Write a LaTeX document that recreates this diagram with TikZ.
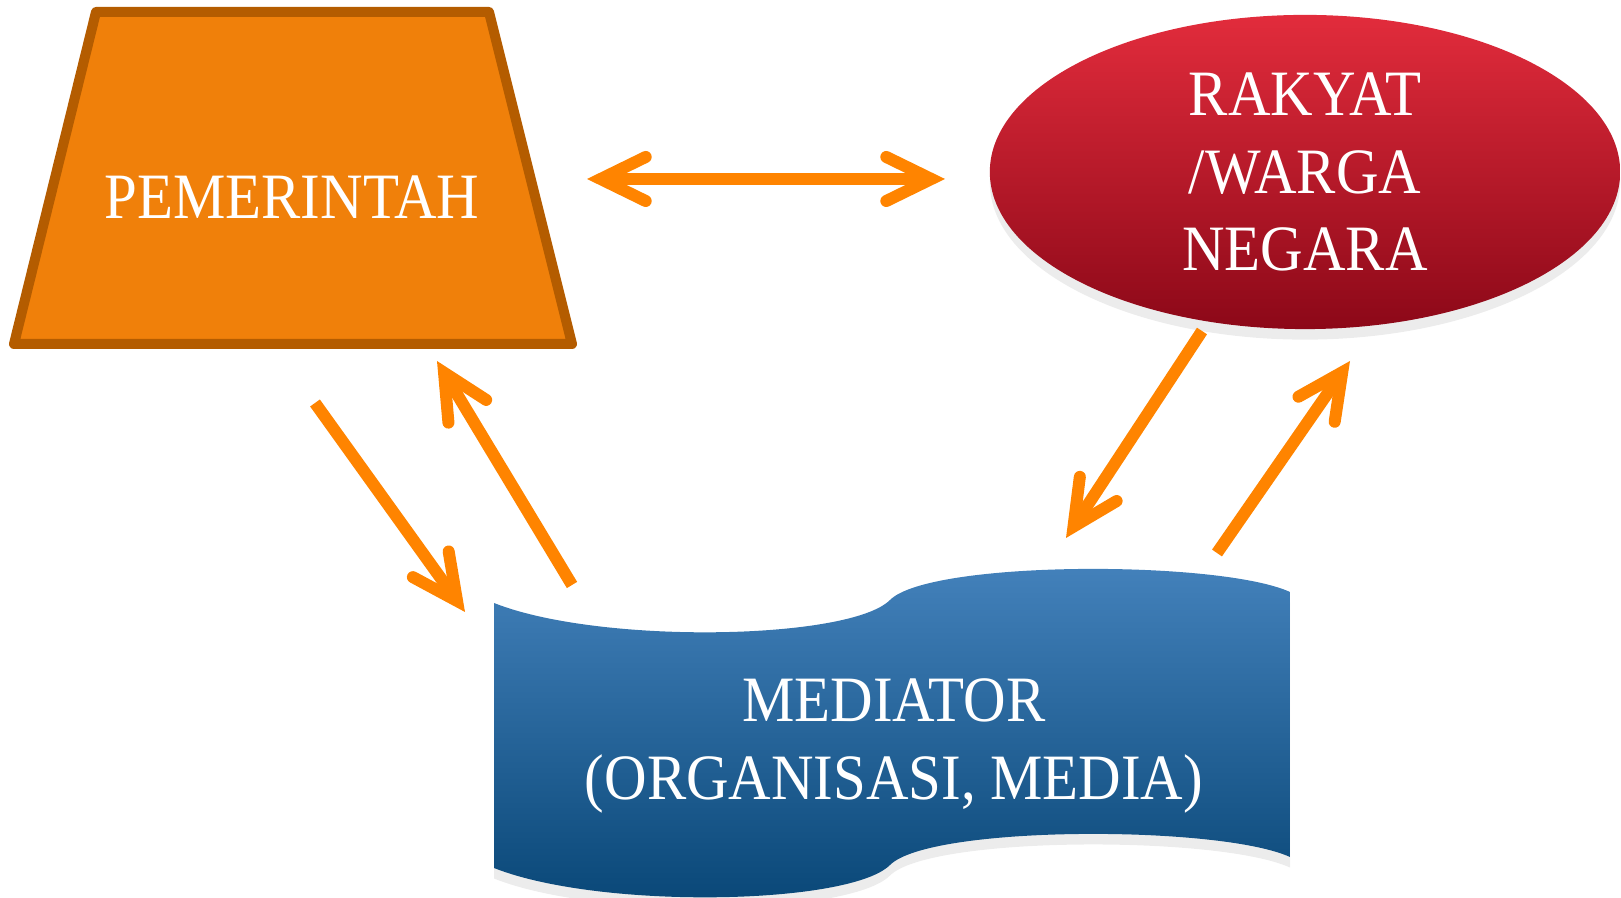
\documentclass[tikz,border=0pt]{standalone}
\usepackage{fontspec}
\setmainfont{Liberation Serif}[FakeStretch=0.91]
\usetikzlibrary{arrows.meta,shapes.geometric,shadows}
\definecolor{govfill}{RGB}{240,128,10}
\definecolor{govline}{RGB}{180,92,0}
\definecolor{linkorange}{RGB}{255,132,0}
\definecolor{redtop}{RGB}{226,44,60}
\definecolor{redbot}{RGB}{140,8,24}
\definecolor{bluetop}{RGB}{68,130,188}
\definecolor{bluebot}{RGB}{8,70,118}

\begin{document}
\begin{tikzpicture}[x=0.01cm,y=-0.01cm,
  >={Straight Barb[length=0.45cm,width=0.44cm,line cap=round,line join=miter]},
  link/.style={->,draw=linkorange,line width=0.12cm},
  soft shadow/.style={drop shadow={opacity=0.15,shadow xshift=0pt,shadow yshift=-3pt}},
  label text/.style={text=white,font=\fontsize{18.4}{22}\selectfont,align=center}]

  \useasboundingbox (0,0) rectangle (1621,898);

  % pemerintah
  \draw[govline,fill=govfill,line width=0.1cm,line join=round]
    (96,12) -- (489,12) -- (572,344) -- (14,344) -- cycle;
  \node[label text] (gov) at (292,197) {PEMERINTAH};

  % rakyat
  \node[ellipse,minimum width=6.3cm,minimum height=3.14cm,soft shadow,
    top color=redtop,bottom color=redbot,label text] (rak) at (1305,172)
    {RAKYAT\\/WARGA\\NEGARA};

  % mediator
  \shade[top color=bluetop,bottom color=bluebot,soft shadow]
    (494,603) .. controls (600,645) and (850,640) .. (890,600)
    .. controls (930,560) and (1220,560) .. (1290,592) -- (1290,857)
    .. controls (1220,825) and (930,825) .. (890,865)
    .. controls (850,905) and (600,910) .. (494,868) -- cycle;
  \node[label text] (med) at (894,746) {MEDIATOR\\(ORGANISASI, MEDIA)};

  % arrow ends
  \coordinate (govSide) at (587,179);
  \coordinate (rakSide) at (945,179);
  \coordinate (govOut) at (315,403);
  \coordinate (medIn) at (465,612);
  \coordinate (medOut) at (572,585);
  \coordinate (govIn) at (437,361);
  \coordinate (rakOut) at (1202,331);
  \coordinate (medInR) at (1066,538);
  \coordinate (medOutR) at (1217,553);
  \coordinate (rakIn) at (1350,361);

  \draw[link,<->] (govSide) -- (rakSide);
  \draw[link] (govOut) -- (medIn);
  \draw[link] (medOut) -- (govIn);
  \draw[link] (rakOut) -- (medInR);
  \draw[link] (medOutR) -- (rakIn);
\end{tikzpicture}
\end{document}
